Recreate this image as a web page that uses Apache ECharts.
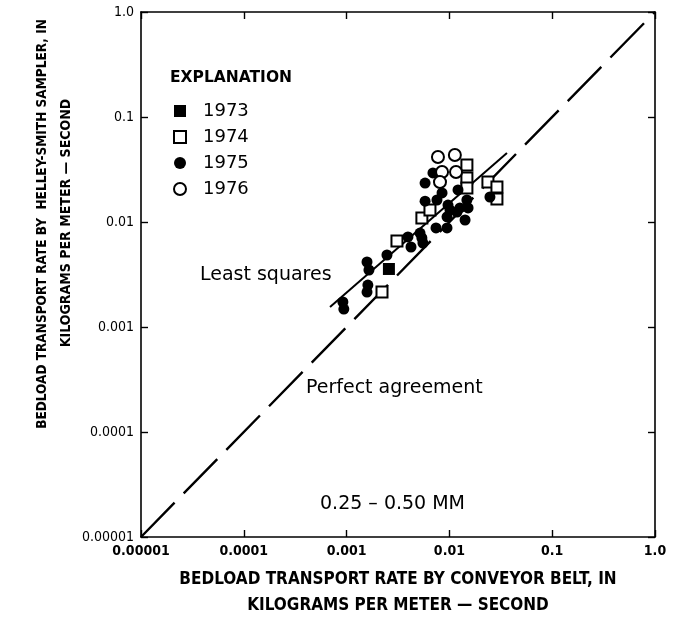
<!DOCTYPE html>
<html>
<head>
<meta charset="utf-8">
<script src="https://cdn.jsdelivr.net/npm/echarts@6/dist/echarts.min.js"></script>
<style>
  html, body { margin: 0; padding: 0; background: #fff; }
  #chart { width: 681px; height: 623px; }
</style>
</head>
<body>
<div id="chart"></div>
<script>
// tick labels (log decades)
const tickLabels = ['0.00001', '0.0001', '0.001', '0.01', '0.1', '1.0'];
const years = ['1973', '1974', '1975', '1976'];

// conveyor belt (x) vs Helley-Smith sampler (y), kg per meter-second
const belt1973 = [0.00258];
const sampler1973 = [0.00357];

const belt1974 = [0.00221, 0.00309, 0.0054, 0.00647, 0.0148, 0.0148, 0.0148, 0.0237, 0.029, 0.029];
const sampler1974 = [0.00215, 0.00659, 0.0109, 0.0130, 0.0349, 0.0262, 0.0211, 0.0240, 0.0216, 0.0166];

const belt1975 = [0.00092, 0.00094, 0.00158, 0.00165, 0.00161, 0.00158, 0.00247, 0.00395, 0.00423, 0.00518,
  0.0054, 0.0058, 0.0058, 0.00692, 0.00757, 0.00848, 0.00948, 0.00948, 0.00969, 0.01186,
  0.01213, 0.0142, 0.0148, 0.0152, 0.0248, 0.01014, 0.01267, 0.00741, 0.00553];
const sampler1975 = [0.00173, 0.00148, 0.00416, 0.00349, 0.00251, 0.00215, 0.00485, 0.0072, 0.00578, 0.00785,
  0.00704, 0.0158, 0.0235, 0.0293, 0.0162, 0.0189, 0.0112, 0.00877, 0.0145, 0.01245,
  0.0202, 0.01045, 0.0162, 0.0136, 0.0173, 0.0130, 0.0136, 0.00877, 0.0063];

const belt1976 = [0.00774, 0.0113, 0.00848, 0.0116, 0.0081];
const sampler1976 = [0.0416, 0.0435, 0.0299, 0.0299, 0.0240];

// reference lines
const perfectX = [0.00001, 1];
const perfectY = [0.00001, 1];
const lsqX = [0.00069, 0.0363];
const lsqY = [0.00155, 0.0454];

function zip(a, b) { return a.map((v, i) => [v, b[i]]); }

const INK = '#000';
const condensed = '"DejaVu Sans Condensed", "Liberation Sans", sans-serif';
const plain = '"DejaVu Sans", "Liberation Sans", sans-serif';

function decadeLabel(v) {
  return tickLabels[Math.round(Math.log10(v)) + 5];
}

const frameAxis = {
  type: 'log', logBase: 10, min: 0.00001, max: 1,
  axisLine: { show: true, lineStyle: { color: INK, width: 1.6 } },
  axisTick: { show: true, inside: true, length: 7, lineStyle: { color: INK, width: 1.4 } },
  minorTick: { show: false },
  splitLine: { show: false }
};

const chart = echarts.init(document.getElementById('chart'));
chart.setOption({
  backgroundColor: '#fff',
  animation: false,
  grid: { left: 141, top: 12, width: 514, height: 525 },
  xAxis: [
    Object.assign({}, frameAxis, {
      position: 'bottom',
      axisLabel: { formatter: decadeLabel, color: INK, fontFamily: condensed, fontSize: 14, fontWeight: 'bold', margin: 7 }
    }),
    Object.assign({}, frameAxis, { position: 'top', axisLabel: { show: false } })
  ],
  yAxis: [
    Object.assign({}, frameAxis, {
      position: 'left',
      axisLabel: { formatter: decadeLabel, color: INK, fontFamily: condensed, fontSize: 14, margin: 7 }
    }),
    Object.assign({}, frameAxis, { position: 'right', axisLabel: { show: false } })
  ],
  legend: {
    orient: 'vertical', left: 168, top: 97,
    itemWidth: 12, itemHeight: 12, itemGap: 8,
    data: years,
    textStyle: { color: INK, fontFamily: plain, fontSize: 18, padding: [0, 0, 0, 12] }
  },
  graphic: [
    { type: 'text', left: 170, top: 70, style: { text: 'EXPLANATION', font: 'bold 15.5px ' + plain, fill: INK } },
    { type: 'text', left: 200, top: 266, style: { text: 'Least squares', font: '19px ' + plain, fill: INK } },
    { type: 'text', left: 306, top: 379, style: { text: 'Perfect agreement', font: '19px ' + plain, fill: INK } },
    { type: 'text', left: 320, top: 495, style: { text: '0.25 \u2013 0.50 MM', font: '19px ' + plain, fill: INK } },
    { type: 'text', x: 398, y: 580, style: { text: 'BEDLOAD TRANSPORT RATE BY CONVEYOR BELT, IN', font: 'bold 17px ' + condensed, fill: INK, align: 'center', verticalAlign: 'middle' } },
    { type: 'text', x: 398, y: 606, style: { text: 'KILOGRAMS PER METER \u2014 SECOND', font: 'bold 17px ' + condensed, fill: INK, align: 'center', verticalAlign: 'middle' } },
    { type: 'text', x: 42, y: 224, rotation: Math.PI / 2, style: { text: 'BEDLOAD TRANSPORT RATE BY  HELLEY-SMITH SAMPLER, IN', font: 'bold 13.5px ' + condensed, fill: INK, align: 'center', verticalAlign: 'middle' } },
    { type: 'text', x: 66, y: 223, rotation: Math.PI / 2, style: { text: 'KILOGRAMS PER METER \u2014 SECOND', font: 'bold 14px ' + condensed, fill: INK, align: 'center', verticalAlign: 'middle' } }
  ],
  series: [
    {
      name: 'Perfect agreement', type: 'line', data: zip(perfectX, perfectY), symbol: 'none',
      lineStyle: { color: INK, width: 2.4, type: [48, 13] }, z: 1
    },
    {
      name: 'Least squares', type: 'line', data: zip(lsqX, lsqY), symbol: 'none',
      lineStyle: { color: INK, width: 2 }, z: 1
    },
    {
      name: '1973', type: 'scatter', data: zip(belt1973, sampler1973), symbol: 'rect', symbolSize: 12,
      itemStyle: { color: INK, opacity: 1 }
    },
    {
      name: '1974', type: 'scatter', data: zip(belt1974, sampler1974), symbol: 'rect', symbolSize: 11,
      itemStyle: { color: '#fff', borderColor: INK, borderWidth: 2, opacity: 1 }
    },
    {
      name: '1975', type: 'scatter', data: zip(belt1975, sampler1975), symbol: 'circle', symbolSize: 11,
      itemStyle: { color: INK, opacity: 1 }
    },
    {
      name: '1976', type: 'scatter', data: zip(belt1976, sampler1976), symbol: 'circle', symbolSize: 12,
      itemStyle: { color: '#fff', borderColor: INK, borderWidth: 2, opacity: 1 }
    }
  ]
});
</script>
</body>
</html>
